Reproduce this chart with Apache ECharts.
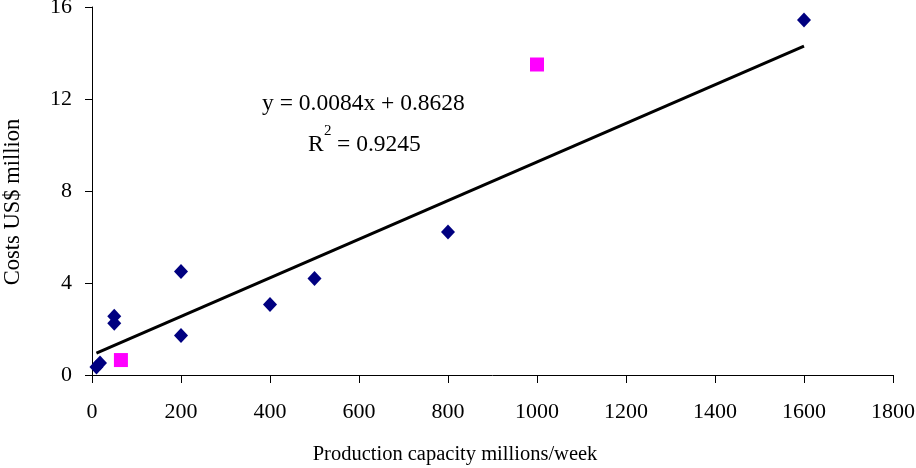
<!DOCTYPE html>
<html><head><meta charset="utf-8">
<script src="https://cdn.jsdelivr.net/npm/echarts@6/dist/echarts.min.js"></script>
<style>html,body{margin:0;padding:0;background:#fff}#c{width:916px;height:468px}</style>
</head><body><div id="c"></div>
<script>
const capacityA = [10, 18, 50, 50, 200, 200, 400, 500, 800, 1600];
const costsA = [0.35, 0.52, 2.55, 2.25, 4.5, 1.72, 3.07, 4.2, 6.22, 15.43];
const capacityB = [65, 1000];
const costsB = [0.65, 13.5];
const trendX = [10, 1600];
const slope = 0.0084, intercept = 0.8628;
const eqText = 'y = 0.0084x + 0.8628';
const r2Text = '= 0.9245';
const xName = 'Production capacity millions/week';
const yName = 'Costs US$ million';
const font = '"Liberation Serif", "Times New Roman", serif';

const chart = echarts.init(document.getElementById('c'), null, {renderer: 'canvas'});
chart.setOption({
  animation: false,
  backgroundColor: '#fff',
  grid: {left: 92, right: 23, top: 7, bottom: 93, containLabel: false, outerBoundsMode: 'none'},
  xAxis: {
    type: 'value', min: 0, max: 1800, interval: 200,
    axisLine: {lineStyle: {color: '#000', width: 1}},
    axisTick: {show: true, length: 8, lineStyle: {color: '#000'}},
    axisLabel: {fontFamily: font, fontSize: 22, color: '#000', margin: 26, formatter: v => String(v)},
    splitLine: {show: false}
  },
  yAxis: {
    type: 'value', min: 0, max: 16, interval: 4,
    axisLine: {show: true, lineStyle: {color: '#000', width: 1}},
    axisTick: {show: true, length: 7, lineStyle: {color: '#000'}},
    axisLabel: {fontFamily: font, fontSize: 22, color: '#000', margin: 20, formatter: v => String(v)},
    splitLine: {show: false}
  },
  series: [
    {
      type: 'line', data: trendX.map(x => [x, slope * x + intercept]),
      symbol: 'none', lineStyle: {color: '#000', width: 3}, z: 2, silent: true
    },
    {
      type: 'scatter', data: capacityA.map((x, i) => [x, costsA[i]]),
      symbol: 'diamond', symbolSize: [14, 15], itemStyle: {color: '#000080', opacity: 1}, z: 3
    },
    {
      type: 'scatter', data: capacityB.map((x, i) => [x, costsB[i]]),
      symbol: 'rect', symbolSize: 14, itemStyle: {color: '#FF00FF', opacity: 1}, z: 3
    }
  ],
  graphic: [
    {type: 'text', x: 455, y: 455, style: {text: xName, font: '20.5px ' + font, fill: '#000', align: 'center', verticalAlign: 'middle'}},
    {type: 'text', x: 13, y: 202, rotation: Math.PI / 2, style: {text: yName, font: '22.5px ' + font, fill: '#000', align: 'center', verticalAlign: 'middle'}},
    {type: 'text', x: 262, y: 104, style: {text: eqText, font: '23.5px ' + font, fill: '#000', verticalAlign: 'middle'}},
    {type: 'text', x: 308, y: 145, style: {text: 'R', font: '23.5px ' + font, fill: '#000', verticalAlign: 'middle'}},
    {type: 'text', x: 324, y: 131, style: {text: '2', font: '15px ' + font, fill: '#000', verticalAlign: 'middle'}},
    {type: 'text', x: 337, y: 145, style: {text: r2Text, font: '23.5px ' + font, fill: '#000', verticalAlign: 'middle'}}
  ]
});
</script></body></html>
